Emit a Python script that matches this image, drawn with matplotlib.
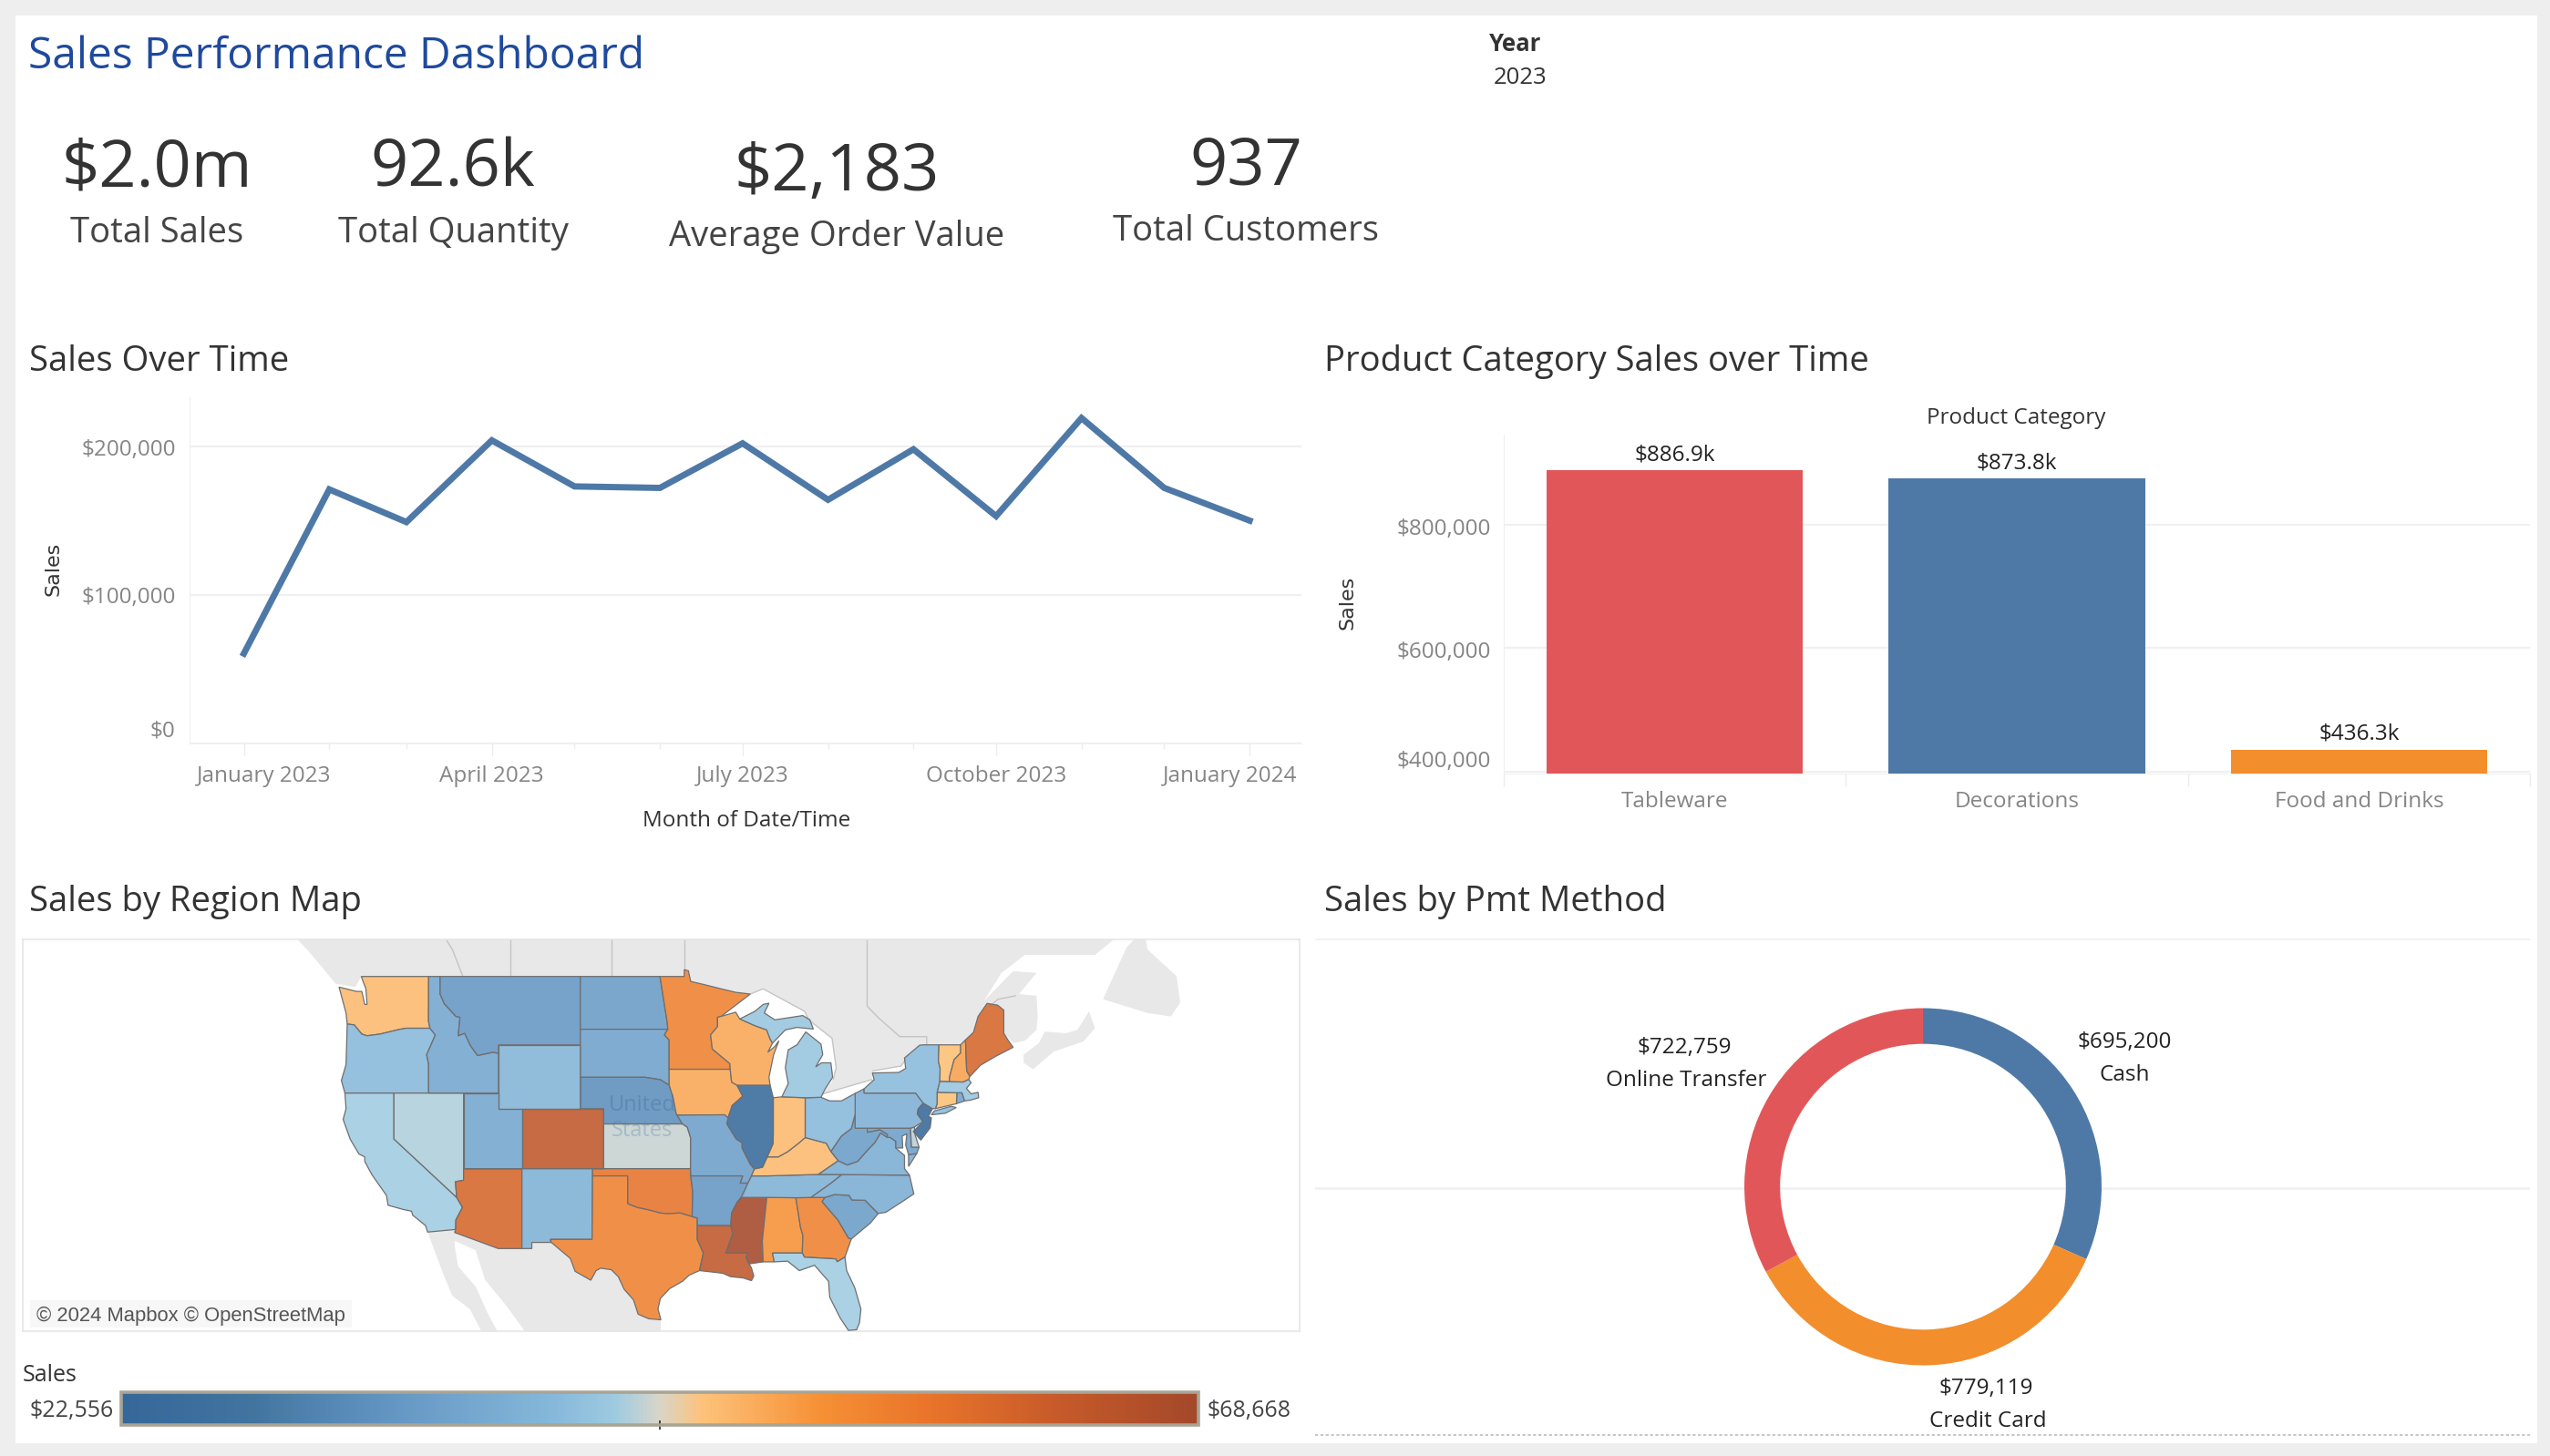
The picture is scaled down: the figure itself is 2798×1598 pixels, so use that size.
import matplotlib
matplotlib.use("Agg")
import numpy as np
import matplotlib.pyplot as plt
import matplotlib.dates as mdates
from datetime import date
from matplotlib.colors import LinearSegmentedColormap, Normalize
from matplotlib.cm import ScalarMappable
from matplotlib.patches import Polygon, Rectangle
from matplotlib.transforms import ScaledTranslation

W, H = 2798, 1598
plt.rcParams['font.family'] = ['Open Sans', 'DejaVu Sans']

# data
months = [date(2023, m, 1) for m in range(1, 13)] + [date(2024, 1, 1)]
month_sales = [60500, 171000, 149000, 204000, 173000, 172000, 202000, 164000, 198000, 153000, 219000, 172000, 150000]

categories = ['Tableware', 'Decorations', 'Food and Drinks']
category_sales = [886900, 873800, 436300]
category_labels = ['$886.9k', '$873.8k', '$436.3k']
category_colors = ['#e15759', '#4e79a7', '#f28e2b']

pay_methods = ['Cash', 'Credit Card', 'Online Transfer']
pay_sales = [695200, 779119, 722759]
pay_colors = ['#4e79a7', '#f28e2b', '#e15759']

sales_min, sales_max = 22556, 68668
state_sales = {
    'WA': 48379, 'OR': 41001, 'CA': 43768, 'NV': 44229, 'ID': 37312, 'MT': 34084, 'WY': 40079,
    'UT': 37312, 'CO': 64057, 'AZ': 60368, 'NM': 39617, 'ND': 35006, 'SD': 36390, 'NE': 32701,
    'KS': 44920, 'OK': 57601, 'TX': 54834, 'MN': 54834, 'IA': 50223, 'MO': 35928, 'AR': 34084,
    'LA': 64057, 'WI': 50223, 'IL': 23478, 'MI': 42845, 'MI2': 42845, 'IN': 48379, 'OH': 41001,
    'KY': 48379, 'TN': 39617, 'MS': 68668, 'AL': 52529, 'GA': 54834, 'FL': 43768, 'SC': 35467,
    'NC': 38695, 'VA': 38695, 'VA2': 38695, 'WV': 35467, 'PA': 39156, 'NY': 41462, 'NY2': 41462,
    'NJ': 22556, 'MD': 35928, 'DE': 44690, 'CT': 47918, 'RI': 36390, 'MA': 42845, 'VT': 47918,
    'NH': 50684, 'ME': 60368,
}

# state outlines, lon/lat
states = {
    'WA': [(-124.7,48.4),(-123.2,48.15),(-122.75,48.15),(-122.5,47.4),(-122.3,47.4),(-122.4,48.3),(-122.8,49),(-117.03,49),(-117.04,46.42),(-116.92,46),(-118.98,46),(-119.6,45.92),(-121.2,45.65),(-122.3,45.55),(-122.75,45.65),(-123.4,46.2),(-124,46.25),(-124.1,46.9)],
    'OR': [(-124,46.25),(-123.4,46.2),(-122.75,45.65),(-122.3,45.55),(-121.2,45.65),(-119.6,45.92),(-118.98,46),(-116.92,46),(-116.46,45.6),(-117.2,44.4),(-117.03,43.8),(-117.03,42),(-124.2,42),(-124.5,42.8),(-124.1,43.8)],
    'CA': [(-124.2,42),(-120,42),(-120,39),(-114.63,35),(-114.14,34.3),(-114.7,33.4),(-114.72,32.72),(-117.12,32.53),(-117.3,33),(-118.4,33.75),(-118.5,34.03),(-119.2,34.15),(-120.5,34.45),(-120.65,35.15),(-121.9,36.6),(-122.5,37.5),(-122.5,37.8),(-123,38),(-123.75,39),(-124.35,40.3),(-124.1,41)],
    'NV': [(-120,42),(-114.04,42),(-114.04,36.2),(-114.74,36.1),(-114.63,35),(-120,39)],
    'ID': [(-117.03,49),(-116.05,49),(-116.05,48),(-115.7,47.45),(-114.7,46.7),(-114.35,46.65),(-114.5,45.55),(-113.95,45.7),(-113.45,44.95),(-112.85,44.35),(-111.5,44.55),(-111.05,44.48),(-111.05,42),(-117.03,42),(-117.03,43.8),(-117.2,44.4),(-116.46,45.6),(-116.92,46),(-117.04,46.42)],
    'MT': [(-116.05,49),(-104.05,49),(-104.05,45),(-111.05,45),(-111.05,44.48),(-111.5,44.55),(-112.85,44.35),(-113.45,44.95),(-113.95,45.7),(-114.5,45.55),(-114.35,46.65),(-114.7,46.7),(-115.7,47.45),(-116.05,48)],
    'WY': [(-111.05,45),(-104.05,45),(-104.05,41),(-111.05,41)],
    'UT': [(-114.04,42),(-111.05,42),(-111.05,41),(-109.05,41),(-109.05,37),(-114.04,37)],
    'CO': [(-109.05,41),(-102.05,41),(-102.05,37),(-109.05,37)],
    'AZ': [(-114.04,37),(-109.05,37),(-109.05,31.33),(-111.07,31.33),(-114.81,32.5),(-114.72,32.72),(-114.7,33.4),(-114.14,34.3),(-114.63,35),(-114.74,36.1),(-114.04,36.2)],
    'NM': [(-109.05,37),(-103,37),(-103.04,32),(-106.62,32),(-106.53,31.78),(-108.2,31.78),(-108.2,31.33),(-109.05,31.33)],
    'ND': [(-104.05,49),(-97.23,49),(-96.6,46.3),(-96.56,45.94),(-104.05,45.94)],
    'SD': [(-104.05,45.94),(-96.56,45.94),(-96.85,45.6),(-96.45,45.3),(-96.45,43.5),(-96.44,42.5),(-97.2,42.85),(-98.5,43),(-104.05,43)],
    'NE': [(-104.05,43),(-98.5,43),(-97.2,42.85),(-96.44,42.5),(-96.1,41.7),(-95.85,40.7),(-95.31,40),(-102.05,40),(-102.05,41),(-104.05,41)],
    'KS': [(-102.05,40),(-95.31,40),(-94.9,39.8),(-94.61,39.1),(-94.62,37),(-102.05,37)],
    'OK': [(-103,37),(-94.62,37),(-94.43,35.4),(-94.48,33.64),(-95.5,33.9),(-96.6,33.85),(-97.2,33.9),(-98.1,34.1),(-99.2,34.3),(-100,34.56),(-100,36.5),(-103,36.5)],
    'TX': [(-106.62,32),(-103.04,32),(-103,36.5),(-100,36.5),(-100,34.56),(-99.2,34.3),(-98.1,34.1),(-97.2,33.9),(-96.6,33.85),(-95.5,33.9),(-94.48,33.64),(-94.04,33.55),(-94.04,32),(-93.52,31),(-93.85,29.7),(-94.75,29.35),(-95.3,28.9),(-96.4,28.35),(-97.2,27.6),(-97.4,26.8),(-97.15,25.97),(-98.2,26.05),(-99.1,26.4),(-99.5,27.5),(-100.3,28.3),(-100.8,29.25),(-101.4,29.77),(-102.3,29.88),(-102.7,29.7),(-103.15,28.98),(-104.5,29.65),(-104.9,30.6),(-106.53,31.78)],
    'MN': [(-97.23,49),(-95.15,49),(-95.15,49.38),(-94.8,49.32),(-94.6,48.72),(-93.5,48.55),(-92,48.3),(-90.75,48.1),(-89.5,48),(-92,46.7),(-92.3,46.65),(-92.3,46.1),(-92.9,45.6),(-92.75,44.75),(-91.25,43.85),(-91.22,43.5),(-96.45,43.5),(-96.45,45.3),(-96.85,45.6),(-96.56,45.94),(-96.6,46.3)],
    'IA': [(-96.45,43.5),(-91.22,43.5),(-91.1,42.7),(-90.64,42.5),(-90.15,41.8),(-91.05,41.2),(-91.4,40.4),(-91.7,40.6),(-95.77,40.58),(-95.85,40.7),(-96.1,41.7),(-96.44,42.5)],
    'MO': [(-95.77,40.58),(-91.7,40.6),(-91.4,40.4),(-91.5,40),(-90.7,39),(-90.2,38.75),(-90.2,38.4),(-89.5,37.3),(-89.15,36.98),(-89.4,36.5),(-89.7,36),(-90.37,36),(-90.15,36.5),(-94.62,36.5),(-94.62,37),(-94.61,39.1),(-94.9,39.8),(-95.31,40)],
    'AR': [(-94.62,36.5),(-90.15,36.5),(-90.37,36),(-89.7,36),(-90.1,35.1),(-90.6,34.7),(-91.1,33.9),(-91.17,33),(-94.04,33),(-94.04,33.55),(-94.48,33.64),(-94.43,35.4)],
    'LA': [(-94.04,33),(-91.17,33),(-91,32.4),(-91.6,31),(-89.73,31),(-89.85,30.65),(-89.6,30.2),(-89.4,29.9),(-89.2,29.3),(-89.4,28.95),(-90.1,29.15),(-91.2,29.25),(-91.85,29.5),(-92.3,29.55),(-93.85,29.7),(-93.52,31),(-94.04,32)],
    'MS': [(-91.17,33),(-91.1,33.9),(-90.6,34.7),(-90.3,35),(-88.2,35),(-88.1,34.9),(-88.47,31.9),(-88.4,30.35),(-89.6,30.2),(-89.85,30.65),(-89.73,31),(-91.6,31),(-91,32.4)],
    'AL': [(-88.2,35),(-85.6,34.98),(-85.2,32.87),(-85,32.3),(-85.05,31),(-87.6,31),(-87.45,30.35),(-88.4,30.35),(-88.47,31.9),(-88.1,34.9)],
    'GA': [(-85.6,34.98),(-83.11,35),(-83.35,34.7),(-82,33.4),(-81.1,32.1),(-80.85,32.03),(-81.4,30.7),(-82.05,30.36),(-82.2,30.57),(-84.86,30.7),(-85.05,31),(-85,32.3),(-85.2,32.87)],
    'FL': [(-87.6,31),(-85.05,31),(-84.86,30.7),(-82.2,30.57),(-82.05,30.36),(-81.4,30.7),(-81.25,29.7),(-80.55,28.4),(-80.03,26.8),(-80.15,25.75),(-80.4,25.2),(-81.1,25.15),(-81.8,26.1),(-82.7,27.7),(-82.8,28.9),(-83.6,29.7),(-84,30.1),(-85.3,29.7),(-86.3,30.4),(-87.45,30.35)],
    'SC': [(-83.35,34.7),(-83.11,35),(-82.3,35.2),(-81.05,35.15),(-80.8,34.82),(-79.67,34.8),(-78.55,33.86),(-79.2,33.2),(-80.85,32.03),(-81.1,32.1),(-82,33.4)],
    'NC': [(-84.32,35),(-83.11,35),(-82.3,35.2),(-81.05,35.15),(-80.8,34.82),(-79.67,34.8),(-78.55,33.86),(-77.9,33.95),(-76.5,34.7),(-75.5,35.25),(-75.87,36.55),(-81.68,36.59),(-82.6,36)],
    'TN': [(-90.3,35),(-88.2,35),(-85.6,34.98),(-84.32,35),(-82.6,36),(-81.68,36.59),(-83.68,36.6),(-88.05,36.5),(-89.4,36.5),(-89.7,36)],
    'KY': [(-89.4,36.5),(-88.05,36.5),(-83.68,36.6),(-81.97,37.54),(-82.6,38.17),(-83,38.72),(-84.8,39.1),(-85.4,38.7),(-86.3,38.15),(-87.1,37.8),(-88.05,37.8),(-88.45,37.1),(-89.15,36.98)],
    'VA': [(-83.68,36.6),(-81.68,36.59),(-75.87,36.55),(-76.3,37),(-76.3,37.9),(-77.05,38.4),(-77.05,38.85),(-77.5,39.1),(-77.8,39.13),(-78.35,39.4),(-78.85,38.75),(-79.3,38.4),(-80.3,37.5),(-81.2,37.25),(-81.97,37.54)],
    'VA2': [(-75.25,38.03),(-75.95,37.15),(-75.95,37.95)],
    'WV': [(-81.97,37.54),(-81.2,37.25),(-80.3,37.5),(-79.3,38.4),(-78.85,38.75),(-78.35,39.4),(-77.8,39.13),(-77.75,39.3),(-78.4,39.62),(-79.48,39.45),(-79.48,39.72),(-80.52,39.72),(-80.52,40.64),(-80.85,39.7),(-81.7,39.2),(-82.6,38.17)],
    'MD': [(-79.48,39.72),(-75.79,39.72),(-75.7,38.46),(-75.05,38.45),(-75.25,38.03),(-75.95,37.95),(-76.2,38.6),(-76.1,39.35),(-76.5,39.2),(-76.45,38.4),(-77.05,38.4),(-77.05,38.85),(-77.5,39.1),(-77.8,39.13),(-77.75,39.3),(-78.4,39.62),(-79.48,39.45)],
    'DE': [(-75.79,39.72),(-75.45,39.8),(-75.4,39.3),(-75.05,38.45),(-75.7,38.46)],
    'PA': [(-80.52,41.98),(-79.76,42.27),(-79.76,42),(-75.35,42),(-74.7,41.36),(-75.13,40.97),(-75.2,40.65),(-74.72,40.15),(-75.45,39.8),(-75.79,39.72),(-80.52,39.72)],
    'NJ': [(-75.13,40.97),(-74.7,41.36),(-73.9,41),(-74.25,40.5),(-74,40.4),(-74.1,39.75),(-74.9,38.93),(-75.55,39.5),(-74.72,40.15),(-75.2,40.65)],
    'NY': [(-79.76,42.27),(-78.9,42.85),(-79.05,43.27),(-76.8,43.3),(-76.2,43.55),(-76.3,44.2),(-75,44.98),(-74.7,45),(-73.35,45),(-73.4,44),(-73.25,43.55),(-73.27,42.75),(-73.5,42.05),(-73.5,41.3),(-73.65,41),(-73.9,41),(-74.7,41.36),(-75.35,42),(-79.76,42)],
    'NY2': [(-74,40.6),(-73.75,40.85),(-72.3,41.15),(-71.87,41.07),(-72.8,40.7)],
    'CT': [(-73.5,42.05),(-71.8,42.02),(-71.85,41.32),(-73.65,41),(-73.5,41.3)],
    'RI': [(-71.8,42.02),(-71.38,42.02),(-71.15,41.5),(-71.85,41.32)],
    'MA': [(-73.5,42.05),(-73.27,42.75),(-71.3,42.7),(-70.8,42.87),(-70.6,42.65),(-71,42.3),(-70.6,41.95),(-70,42.05),(-69.95,41.7),(-70.65,41.55),(-71.15,41.5),(-71.38,42.02),(-71.8,42.02)],
    'VT': [(-73.35,45),(-71.5,45),(-71.5,44.5),(-72.05,44.1),(-72.45,43),(-72.46,42.73),(-73.27,42.75),(-73.25,43.55),(-73.4,44)],
    'NH': [(-71.5,45),(-71.08,45.3),(-70.98,43.4),(-70.7,43.05),(-70.8,42.87),(-71.3,42.7),(-72.46,42.73),(-72.45,43),(-72.05,44.1),(-71.5,44.5)],
    'ME': [(-71.08,45.3),(-70.4,45.75),(-70,46.7),(-69.23,47.46),(-68.33,47.36),(-67.8,47.07),(-67.8,45.7),(-67.45,45.3),(-67,44.85),(-68.5,44.3),(-69.8,43.75),(-70.7,43.05),(-70.98,43.4)],
    'OH': [(-84.8,41.7),(-83.45,41.73),(-82.7,41.5),(-81.7,41.5),(-80.52,41.98),(-80.52,40.64),(-80.85,39.7),(-81.7,39.2),(-82.6,38.17),(-83,38.72),(-84.8,39.1)],
    'IN': [(-87.53,41.7),(-86.8,41.76),(-84.8,41.7),(-84.8,39.1),(-85.4,38.7),(-86.3,38.15),(-87.1,37.8),(-88.05,37.8),(-87.55,38.7),(-87.53,39.35)],
    'IL': [(-90.64,42.5),(-87.8,42.5),(-87.53,41.7),(-87.53,39.35),(-87.55,38.7),(-88.05,37.8),(-88.45,37.1),(-89.15,36.98),(-89.5,37.3),(-90.2,38.4),(-90.2,38.75),(-90.7,39),(-91.5,40),(-91.4,40.4),(-91.05,41.2),(-90.15,41.8)],
    'WI': [(-92.3,46.65),(-92,46.7),(-90.75,46.95),(-90.4,46.55),(-89.1,46.15),(-88.1,45.9),(-87.8,45.35),(-87.6,45.1),(-88,44.55),(-87.4,44.9),(-87.05,45.25),(-87.5,44.4),(-87.9,43),(-87.8,42.5),(-90.64,42.5),(-91.1,42.7),(-91.22,43.5),(-91.25,43.85),(-92.75,44.75),(-92.9,45.6),(-92.3,46.1)],
    'MI': [(-90.4,46.55),(-89.1,47),(-88.4,47.4),(-87.9,47.47),(-88.3,46.9),(-87.4,46.5),(-85,46.75),(-84.4,46.5),(-84.1,45.95),(-85.5,46.05),(-86.5,45.9),(-87.6,45.1),(-87.8,45.35),(-88.1,45.9),(-89.1,46.15)],
    'MI2': [(-86.8,41.76),(-84.8,41.7),(-83.45,41.73),(-83.1,42.25),(-82.45,43),(-82.6,43.9),(-83.4,43.9),(-83.9,43.65),(-83.3,44.4),(-83.45,45.05),(-84.75,45.78),(-85.5,45),(-86.25,44.7),(-86.5,43.6),(-86.25,42.6)],
}

# land around the states
canada = [(-128.3,53),(-128.2,51),(-127.3,50.4),(-125,48.6),(-123.3,48.4),(-122.8,49),(-95.15,49),(-95.15,49.38),(-94.8,49.32),(-94.6,48.72),(-93.5,48.55),(-92,48.3),(-90.75,48.1),(-89.5,48),(-88.4,48.3),(-84.85,47),(-84.5,46.5),(-83.5,45.95),(-82.5,45.4),(-82.15,43.6),(-82.4,42.85),(-83.3,41.95),(-79.1,42.85),(-79,43.4),(-76.6,43.7),(-76.2,44.1),(-75,44.98),(-71.5,45),(-71.08,45.3),(-70.4,45.75),(-70,46.7),(-69.23,47.46),(-68.33,47.36),(-67.8,47.07),(-67.8,45.7),(-67,45.1),(-66,45.25),(-65,45.9),(-64.9,46.7),(-65,47.9),(-66.5,48),(-65,49.2),(-67,49.3),(-69.5,47.6),(-68,49.2),(-66,50.2),(-60,50.2),(-56.5,52),(-56,53)]
nova_scotia = [(-66.1,43.9),(-65.3,43.5),(-63.5,44.6),(-61,45.2),(-60,46),(-60.5,47),(-61.5,45.9),(-62.5,45.7),(-64.3,45.8),(-64.8,45.1),(-66.1,44.4)]
newfoundland = [(-59.3,47.7),(-57.3,50.6),(-55.8,51.6),(-55.5,50.5),(-53,49),(-52.7,47.5),(-53.5,46.7),(-55.5,46.9)]
mexico = [(-114.81,32.5),(-111.07,31.33),(-108.2,31.33),(-108.2,31.78),(-106.53,31.78),(-104.9,30.6),(-104.5,29.65),(-103.15,28.98),(-102.7,29.7),(-102.3,29.88),(-101.4,29.77),(-100.8,29.25),(-100.3,28.3),(-99.5,27.5),(-99.1,26.4),(-98.2,26.05),(-97.15,25.97),(-97.2,24),(-108,24),(-109.2,25.6),(-110.6,27.3),(-112.2,29),(-113,31.2),(-114.8,31.9)]
baja = [(-117.12,32.53),(-114.72,32.72),(-114.8,31.5),(-114.5,30),(-113,28.5),(-112,26.5),(-110.8,24.5),(-112.2,24.5),(-113.5,26.8),(-115,27.8),(-115.8,29.5)]
border_lines = [
    [(-114.1,49),(-115,50.5),(-115.5,51),(-116,53)], [(-110,49),(-110,53)], [(-101.4,49),(-101.4,53)],
    [(-95.15,49.38),(-95.15,53)],
    [(-79.5,53),(-79.5,47.3),(-78.5,46.6),(-76.7,45.5),(-74.4,45.5),(-74.4,45)],
    [(-69,47.3),(-68.3,47.7),(-66.8,47.9)],
    [(-89.5,48),(-88.4,48.3),(-84.85,47),(-84.5,46.5),(-83.5,45.95),(-82.5,45.4),(-82.15,43.6),(-82.4,42.85)],
    [(-83.3,41.95),(-79.1,42.85)],
    [(-79,43.4),(-76.6,43.7),(-76.2,44.1)],
]


def px_box(x0, y0, x1, y1):
    return [x0 / W, 1 - y1 / H, (x1 - x0) / W, (y1 - y0) / H]


def label(x, y, s, size, color='#333333', ha='center', **kw):
    fig.text(x / W, 1 - (y + 3) / H, s, fontsize=size, color=color, ha=ha, va='center', **kw)


def shift(lab, dx=0, dy=0):
    lab.set_transform(lab.get_transform() + ScaledTranslation(dx / 100, dy / 100, fig.dpi_scale_trans))


def mercator(lat):
    return np.degrees(np.log(np.tan(np.radians(45 + np.asarray(lat) / 2))))


def project(points):
    pts = np.array(points, dtype=float)
    return np.column_stack([pts[:, 0], mercator(pts[:, 1])])


fig = plt.figure(figsize=(W / 100, H / 100), dpi=100, facecolor='#eeeeee')
fig.patches.append(Rectangle((17 / W, 1 - 1584 / H), (2784 - 17) / W, (1584 - 17) / H,
                             transform=fig.transFigure, facecolor='white', edgecolor='none', zorder=-1))

tick_grey = '#858585'
grid_grey = '#f0f0f0'

label(31, 59, 'Sales Performance Dashboard', 34.5, color='#1f4a9c', ha='left')
label(1634, 46, 'Year', 18.5, ha='left', fontweight='bold')
label(1639, 83, '2023', 18.5, ha='left')

kpis = [(172, 183, 253, '$2.0m', 'Total Sales'), (497, 183, 253, '92.6k', 'Total Quantity'),
        (918, 187, 257, '$2,183', 'Average Order Value'), (1367, 181, 251, '937', 'Total Customers')]
for x, y1, y2, big, small in kpis:
    label(x, y1, big, 52)
    label(x, y2, small, 27.5, color='#444444')

label(32, 394, 'Sales Over Time', 27.5, ha='left')
label(1453, 394, 'Product Category Sales over Time', 27.5, ha='left')
label(32, 987, 'Sales by Region Map', 27.5, ha='left')
label(1453, 987, 'Sales by Pmt Method', 27.5, ha='left')

# line chart
ax = fig.add_axes(px_box(208, 436, 1428, 816))
ax.plot(months, month_sales, color='#4e79a7', lw=5, solid_joinstyle='miter')
ax.set_xlim(mdates.date2num(date(2023, 1, 1)) - 19.7, mdates.date2num(date(2024, 1, 1)) + 18.8)
ax.set_ylim(0, 233000)
ax.set_yticks([0, 100000, 200000])
ax.set_yticklabels(['$0', '$100,000', '$200,000'])
ax.set_xticks([mdates.date2num(date(2023, 1, 1)), mdates.date2num(date(2023, 4, 1)), mdates.date2num(date(2023, 7, 1)),
               mdates.date2num(date(2023, 10, 1)), mdates.date2num(date(2024, 1, 1))])
ax.set_xticklabels(['January 2023', 'April 2023', 'July 2023', 'October 2023', 'January 2024'])
ax.xaxis.set_minor_locator(mdates.MonthLocator())
ax.tick_params(axis='x', which='major', length=9, width=1, color='#ececec', labelsize=17.5, labelcolor=tick_grey, pad=8.5)
ax.tick_params(axis='x', which='minor', length=4, width=1, color='#ececec')
ax.tick_params(axis='y', length=0, labelsize=17.5, labelcolor=tick_grey, pad=11)
ax.grid(axis='y', color=grid_grey, lw=1.6)
ax.set_axisbelow(True)
for side in ['top', 'right']:
    ax.spines[side].set_visible(False)
ax.spines['left'].set_color(grid_grey)
ax.spines['bottom'].set_color(grid_grey)
xlabs = ax.get_xticklabels()
shift(xlabs[0], dx=22)
shift(xlabs[-1], dx=-21)
ylabs = ax.get_yticklabels()
shift(ylabs[0], dy=16)
shift(ylabs[2], dy=-1)
label(819, 898, 'Month of Date/Time', 17.5)
label(58, 621, 'Sales', 16, rotation=90, family='DejaVu Sans')

# bar chart
ax = fig.add_axes(px_box(1650, 477, 2776, 849))
x_pos = np.arange(len(categories))
ax.bar(x_pos, category_sales, width=0.75, color=category_colors, zorder=3)
for i, s in enumerate(category_labels):
    ax.annotate(s, (x_pos[i], category_sales[i]), xytext=(0, 17), textcoords='offset pixels',
                ha='center', va='center', fontsize=17.5, color='#222222')
ax.set_xlim(-0.5, 2.5)
ax.set_ylim(397400, 945000)
ax.set_yticks([400000, 600000, 800000])
ax.set_yticklabels(['$400,000', '$600,000', '$800,000'])
ax.set_xticks(x_pos)
ax.set_xticklabels(categories)
ax.set_xticks([-0.5, 0.5, 1.5, 2.5], minor=True)
ax.tick_params(axis='x', which='major', length=0, labelsize=17.5, labelcolor=tick_grey, pad=14)
ax.tick_params(axis='x', which='minor', length=10, width=1, color='#ececec')
ax.tick_params(axis='y', length=0, labelsize=17.5, labelcolor=tick_grey, pad=10)
ax.grid(axis='y', color=grid_grey, lw=1.6)
ax.set_axisbelow(True)
for side in ['top', 'right']:
    ax.spines[side].set_visible(False)
ax.spines['left'].set_color(grid_grey)
ax.spines['bottom'].set_color(grid_grey)
ylabs = ax.get_yticklabels()
shift(ylabs[0], dy=14)
shift(ylabs[1], dy=-2)
shift(ylabs[2], dy=-2)
label(2212, 456, 'Product Category', 17.5)
label(1478, 658, 'Sales', 16, rotation=90, family='DejaVu Sans')

# map
cmap = LinearSegmentedColormap.from_list('orange_blue', [
    (0, '#35689a'), (0.12, '#41749f'), (0.25, '#6496c4'), (0.4, '#86b8da'), (0.46, '#9fcbe1'), (0.5, '#d9d5c9'),
    (0.54, '#fdc27a'), (0.65, '#f69035'), (0.75, '#e9742a'), (0.87, '#c75a2a'), (1, '#a4482a')])
norm = Normalize(sales_min, sales_max)

ax = fig.add_axes(px_box(25, 1031, 1426, 1461))
for shape in [canada, nova_scotia, newfoundland, mexico, baja]:
    ax.add_patch(Polygon(project(shape), closed=True, facecolor='#e8e8e8', edgecolor='none', zorder=1))
for line in border_lines:
    pts = project(line)
    ax.plot(pts[:, 0], pts[:, 1], color='#c4c4c4', lw=1, zorder=2)
for name, outline in states.items():
    r, g, b, _ = cmap(norm(state_sales[name]))
    ax.add_patch(Polygon(project(outline), closed=True, facecolor=(r, g, b, 0.88),
                         edgecolor='#6f6f6f', lw=0.9, zorder=3))
ax.set_xlim(-151.77, -42.48)
ax.set_ylim(25.93, 59.55)
ax.set_xticks([])
ax.set_yticks([])
for spine in ax.spines.values():
    spine.set_color('#e6e6e6')
    spine.set_linewidth(1.2)
ax.add_patch(Rectangle((8 / 1401, 4 / 430), 353 / 1401, 30 / 430, transform=ax.transAxes,
                       facecolor='#f7f7f7', edgecolor='none', zorder=4))
label(40, 1441, '© 2024 Mapbox © OpenStreetMap', 15.8, color='#555555', ha='left', family='Liberation Sans', zorder=10)
label(705, 1210, 'United', 17, color='#4e79a7', alpha=0.55, zorder=10)
label(705, 1238, 'States', 17, color='#4e79a7', alpha=0.3, zorder=10)

# colour legend
cax = fig.add_axes(px_box(133, 1528, 1315, 1564))
cb = fig.colorbar(ScalarMappable(norm=norm, cmap=cmap), cax=cax, orientation='horizontal')
cb.set_ticks([(sales_min + sales_max) / 2])
cb.set_ticklabels([''])
cb.ax.tick_params(length=7, width=1.2, color='#222222', direction='inout')
cb.outline.set_edgecolor('#a8a496')
cb.outline.set_linewidth(2.6)
label(25, 1506, 'Sales', 18, ha='left')
label(125, 1546, '$22,556', 18, color='#444444', ha='right')
label(1324, 1546, '$68,668', 18, color='#444444', ha='left')

# donut
bg = fig.add_axes(px_box(1443, 1030, 2776, 1576))
bg.set_xlim(0, 1)
bg.set_ylim(0, 1)
bg.axis('off')
bg.axhline(0.498, color=grid_grey, lw=1.8)
bg.axhline(0.999, color=grid_grey, lw=1.2)
bg.axhline(0.002, color='#bdbdbd', lw=1.2, ls=(0, (2, 1.5)))

ax = fig.add_axes(px_box(2110 - 197, 1302.5 - 197, 2110 + 197, 1302.5 + 197))
ax.pie(pay_sales, colors=pay_colors, startangle=90, counterclock=False, radius=1,
       wedgeprops=dict(width=0.2))
ax.set_xlim(-197 / 196, 197 / 196)
ax.set_ylim(-197 / 196, 197 / 196)

label(2331, 1141, '$695,200', 17.5, color='#222222')
label(2331, 1177, 'Cash', 17.5, color='#222222')
label(1848, 1147, '$722,759', 17.5, color='#222222')
label(1850, 1183, 'Online Transfer', 17.5, color='#222222')
label(2179, 1521, '$779,119', 17.5, color='#222222')
label(2181, 1557, 'Credit Card', 17.5, color='#222222')

fig.savefig('out.png', dpi=100, facecolor=fig.get_facecolor())
